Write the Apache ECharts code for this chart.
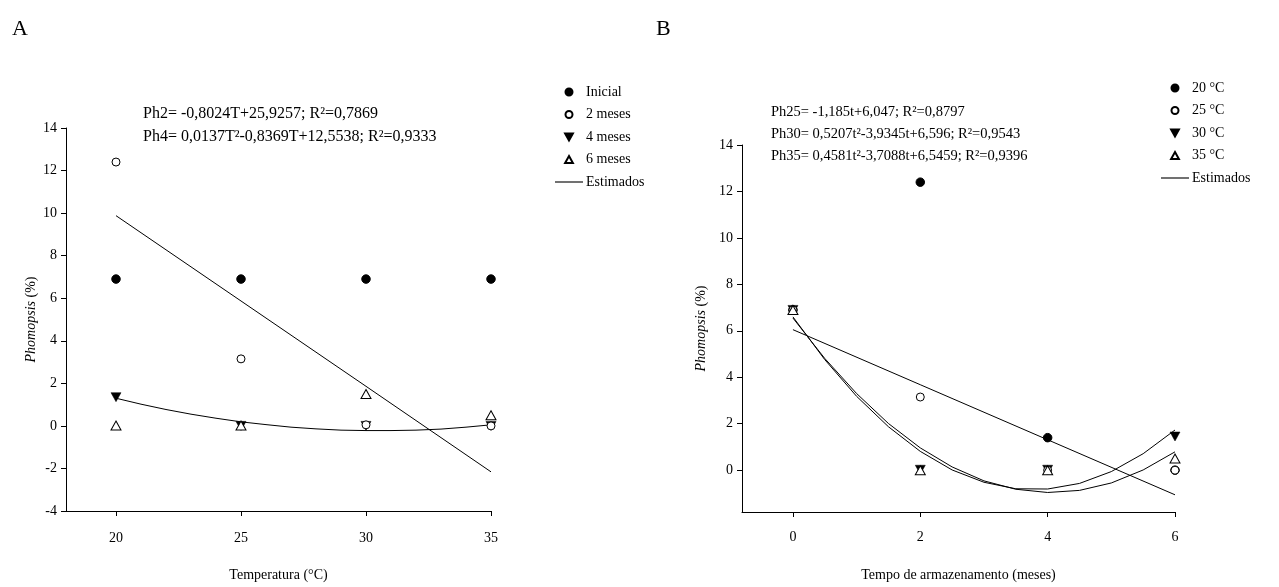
<!DOCTYPE html>
<html>
<head>
<meta charset="utf-8">
<script src="https://cdn.jsdelivr.net/npm/echarts@6/dist/echarts.min.js"></script>
<style>
html,body{margin:0;padding:0;background:#fff;}
#c{width:1279px;height:587px;}
</style>
</head>
<body>
<div id="c"></div>
<script>
// ---- Panel A data (x = temperature) ----
const tempTicks = [20, 25, 30, 35];
const inicial = [6.9, 6.9, 6.9, 6.9];
const meses2 = [12.4, 3.15, 0.05, 0];
const meses4 = [1.35, 0, 0, 0];
const meses6 = [0.02, 0.02, 1.5, 0.5];
// estimated (fitted) values
const estTempsLin = [20, 25, 30, 35];
const estPh2 = [9.88, 5.87, 1.86, -2.16];
const estTemps = [20, 21, 22, 23, 24, 25, 26, 27, 28, 29, 30, 31, 32, 33, 34, 35];
const estPh4 = [1.30, 1.02, 0.77, 0.55, 0.36, 0.19, 0.06, -0.06, -0.14, -0.20, -0.22, -0.22, -0.20, -0.15, -0.06, 0.05];
const yTicksA = [-4, -2, 0, 2, 4, 6, 8, 10, 12, 14];

// ---- Panel B data (x = storage months) ----
const monthTicks = [0, 2, 4, 6];
const t20 = [6.9, 12.4, 1.4, 0];
const t25 = [6.9, 3.15, 0, 0];
const t30 = [6.9, 0.02, 0.02, 1.45];
const t35 = [6.9, 0, 0, 0.5];
const estMonthsLin = [0, 2, 4, 6];
const estPh25 = [6.05, 3.68, 1.31, -1.06];
const estMonths = [0, 0.5, 1, 1.5, 2, 2.5, 3, 3.5, 4, 4.5, 5, 5.5, 6];
const estPh30 = [6.60, 4.76, 3.18, 1.87, 0.81, 0.01, -0.52, -0.80, -0.81, -0.57, -0.06, 0.71, 1.73];
const estPh35 = [6.55, 4.81, 3.30, 2.01, 0.96, 0.14, -0.46, -0.82, -0.96, -0.87, -0.55, 0.01, 0.79];
const yTicksB = [0, 2, 4, 6, 8, 10, 12, 14];

const eqA = ['Ph2= -0,8024T+25,9257; R²=0,7869', 'Ph4= 0,0137T²-0,8369T+12,5538; R²=0,9333'];
const eqB = ['Ph25= -1,185t+6,047; R²=0,8797', 'Ph30= 0,5207t²-3,9345t+6,596; R²=0,9543', 'Ph35= 0,4581t²-3,7088t+6,5459; R²=0,9396'];

const FONT = 'Liberation Serif';
const TRI_DOWN = 'path://M0,0L10,0L5,9Z';
const TRI_UP = 'path://M5,0L10,9L0,9Z';
const LINE_ICON = 'path://M0,0H25V1H0Z';

function pairs(xs, ys) { return xs.map((x, i) => [x, ys[i]]); }

const chart = echarts.init(document.getElementById('c'), null, {renderer: 'canvas'});

function xAxisCfg(idx, min, max, ticks, name, gap, margin) {
  return {
    type: 'value', gridIndex: idx, min: min, max: max,
    name: name, nameLocation: 'middle', nameGap: gap,
    nameTextStyle: {fontFamily: FONT, fontSize: 14, color: '#000'},
    axisLine: {show: true, onZero: false, lineStyle: {color: '#000', width: 1}},
    axisTick: {show: true, length: 5, lineStyle: {color: '#000'}, customValues: ticks},
    axisLabel: {fontFamily: FONT, fontSize: 14, color: '#000', margin: margin, customValues: ticks},
    splitLine: {show: false}
  };
}
function yAxisCfg(idx, min, max, ticks, gap) {
  return {
    type: 'value', gridIndex: idx, min: min, max: max,
    name: '{i|Phomopsis} {n|(%)}', nameLocation: 'middle', nameGap: gap, nameRotate: 90,
    nameTextStyle: {
      fontFamily: FONT, fontSize: 14, color: '#000',
      rich: {i: {fontFamily: FONT, fontSize: 14, fontStyle: 'italic', color: '#000'},
             n: {fontFamily: FONT, fontSize: 14, color: '#000'}}
    },
    axisLine: {show: true, onZero: false, lineStyle: {color: '#000', width: 1}},
    axisTick: {show: true, length: 5, lineStyle: {color: '#000'}, customValues: ticks},
    axisLabel: {fontFamily: FONT, fontSize: 14, color: '#000', margin: 9, customValues: ticks},
    splitLine: {show: false}
  };
}

const filledCircle = {symbol: 'circle', symbolSize: 8.5, itemStyle: {color: '#000', borderColor: '#000', borderWidth: 1, opacity: 1}};
const openCircle = {symbol: 'circle', symbolSize: 8, itemStyle: {color: '#fff', borderColor: '#000', borderWidth: 1, opacity: 1}};
const filledDown = {symbol: TRI_DOWN, symbolSize: [10, 9], itemStyle: {color: '#000', borderColor: '#000', borderWidth: 0.5, opacity: 1}};
const openUp = {symbol: TRI_UP, symbolSize: [10, 9], itemStyle: {color: '#fff', borderColor: '#000', borderWidth: 1, opacity: 1}};

function scatter(name, xi, data, style) {
  return Object.assign({type: 'scatter', name: name, xAxisIndex: xi, yAxisIndex: xi, data: data, z: 3,
    emphasis: {disabled: true}}, JSON.parse(JSON.stringify(style)));
}
function estLine(xi, data) {
  return {type: 'line', name: 'Estimados', xAxisIndex: xi, yAxisIndex: xi, data: data, smooth: false,
    symbol: 'none', showSymbol: false, z: 2, lineStyle: {color: '#000', width: 1}, itemStyle: {color: '#000'},
    emphasis: {disabled: true}};
}

const legendBase = {
  orient: 'vertical', itemHeight: 7, itemGap: 6.5, selectedMode: false, symbolKeepAspect: true,
  textStyle: {fontFamily: FONT, fontSize: 14, color: '#000', lineHeight: 16, padding: [0, 0, 0, -2]}
};

const graphics = [
  {type: 'text', left: 12, top: 18, style: {text: 'A', font: '22px "Liberation Serif"', fill: '#000'}},
  {type: 'text', left: 656, top: 18, style: {text: 'B', font: '22px "Liberation Serif"', fill: '#000'}}
];
eqA.forEach((t, i) => graphics.push({type: 'text', left: 143, top: 106 + i * 22.5, style: {text: t, font: '16px "Liberation Serif"', fill: '#000'}}));
eqB.forEach((t, i) => graphics.push({type: 'text', left: 771, top: 104.5 + i * 22, style: {text: t, font: '14.5px "Liberation Serif"', fill: '#000'}}));

const option = {
  backgroundColor: '#fff',
  animation: false,
  grid: [
    {left: 66, right: 788, top: 128, bottom: 74},
    {left: 742, right: 104, top: 145, bottom: 68}
  ],
  xAxis: [
    xAxisCfg(0, 18, 35, tempTicks, 'Temperatura (°C)', 57, 20),
    xAxisCfg(1, -0.8, 6, monthTicks, 'Tempo de armazenamento (meses)', 56, 18)
  ],
  yAxis: [
    yAxisCfg(0, -4, 14, yTicksA, 28),
    yAxisCfg(1, -1.8, 14, yTicksB, 34)
  ],
  legend: [
    Object.assign({}, legendBase, {left: 550, top: 79, itemWidth: 28,
      data: ['Inicial', '2 meses', '4 meses', {name: '6 meses', icon: TRI_UP}, {name: 'Estimados', icon: LINE_ICON}]}),
    Object.assign({}, legendBase, {left: 1156, top: 75, itemWidth: 28,
      data: ['20 °C', '25 °C', '30 °C', {name: '35 °C', icon: TRI_UP}, {name: 'Estimados', icon: LINE_ICON}]})
  ],
  graphic: graphics,
  series: [
    estLine(0, pairs(estTempsLin, estPh2)),
    estLine(0, pairs(estTemps, estPh4)),
    scatter('Inicial', 0, pairs(tempTicks, inicial), filledCircle),
    scatter('4 meses', 0, pairs(tempTicks, meses4), filledDown),
    scatter('2 meses', 0, pairs(tempTicks, meses2), openCircle),
    scatter('6 meses', 0, pairs(tempTicks, meses6), openUp),
    estLine(1, pairs(estMonthsLin, estPh25)),
    estLine(1, pairs(estMonths, estPh30)),
    estLine(1, pairs(estMonths, estPh35)),
    scatter('20 °C', 1, pairs(monthTicks, t20), filledCircle),
    scatter('30 °C', 1, pairs(monthTicks, t30), filledDown),
    scatter('25 °C', 1, pairs(monthTicks, t25), openCircle),
    scatter('35 °C', 1, pairs(monthTicks, t35), openUp)
  ]
};
chart.setOption(option);
</script>
</body>
</html>
